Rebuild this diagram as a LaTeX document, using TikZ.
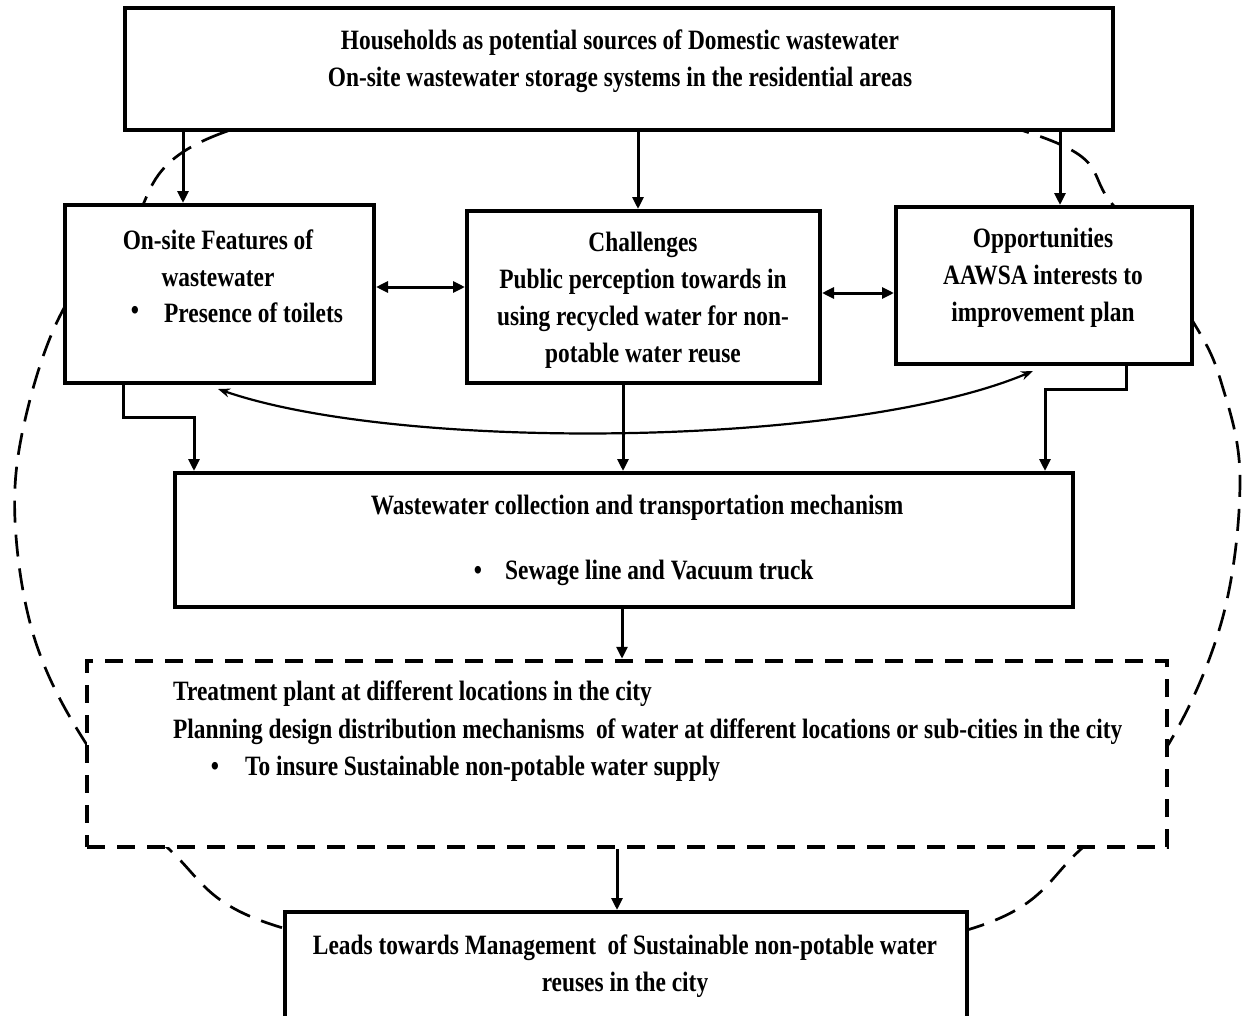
\documentclass[tikz,border=0pt]{standalone}
\usepackage{fontspec}
\setmainfont{Liberation Serif}[FakeStretch=0.835]
\usetikzlibrary{arrows.meta,calc}
\begin{document}
\begin{tikzpicture}[x=1pt,y=-1pt,
  box/.style={draw=black,line width=4pt,fill=white,rectangle,inner sep=0pt},
  dbox/.style={draw=black,line width=4.5pt,fill=white,rectangle,inner sep=0pt,dash pattern=on 18pt off 12pt},
  txt/.style={font=\fontsize{28}{37}\selectfont\bfseries,inner sep=0pt,align=center},
  arr/.style={line width=3pt,-{Triangle[length=12pt,width=11pt]}},
  darr/.style={line width=3pt,{Triangle[length=12pt,width=11pt]}-{Triangle[length=12pt,width=11pt]}},
  carr/.style={line width=2.2pt,{Stealth[length=12pt,width=9pt]}-{Stealth[length=12pt,width=9pt]}},
  ell/.style={line width=2.7pt,dash pattern=on 22pt off 12pt}]
\useasboundingbox (0,0) rectangle (1242,1015);
\clip (0,0) rectangle (1242,1015);
\fill[white] (0,0) rectangle (1242,1015);
% dashed enclosing curve
\draw[ell] plot[smooth cycle,tension=0.6] coordinates {(627,45) (222,133) (128,230) (63,310) (25,420) (15,520) (35,640) (87,745) (170,850) (283,928) (625,985) (967,930) (1080,850) (1165,750) (1222,620) (1240,480) (1222,385) (1192,320) (1113,205) (1030,133)};
% boxes
\node[box,minimum width=988pt,minimum height=122pt] (top) at (619,69) {};
\node[box,minimum width=309pt,minimum height=178pt] (left) at (219.5,294) {};
\node[box,minimum width=353pt,minimum height=172pt] (mid) at (643.5,297) {};
\node[box,minimum width=296pt,minimum height=157pt] (right) at (1044,285.5) {};
\node[box,minimum width=898pt,minimum height=134pt] (coll) at (624,540) {};
\node[dbox,minimum width=1080pt,minimum height=186pt] (treat) at (627,754) {};
\node[box,minimum width=682pt,minimum height=113pt] (lead) at (626,968.5) {};
% texts
\node[txt] (toptxt) at (620,61) {Households as potential sources of Domestic wastewater\\On-site wastewater storage systems in the residential areas};
\node[txt] (lefttxt) at (218,258) {On-site Features of\\wastewater};
\node[txt] (leftb) at (135,313) {•};
\node[txt,anchor=west] (lefttxt2) at (164,313) {Presence of toilets};
\node[txt] (midtxt) at (643,300.5) {Challenges\\Public perception towards in\\using recycled water for non-\\potable water reuse};
\node[txt] (righttxt) at (1043,278) {Opportunities\\AAWSA interests to\\improvement plan};
\node[txt] (colltxt) at (637,508) {Wastewater collection and transportation mechanism};
\node[txt] (collb) at (478,573) {•};
\node[txt,anchor=west] (colltxt2) at (505,573) {Sewage line and Vacuum truck};
\node[txt,anchor=west] (treat1) at (173,694) {Treatment plant at different locations in the city};
\node[txt,anchor=west] (treat2) at (173,732) {Planning design distribution mechanisms\ \ of water at different locations or sub-cities in the city};
\node[txt] (treatb) at (215,769) {•};
\node[txt,anchor=west] (treat3) at (245,769) {To insure Sustainable non-potable water supply};
\node[txt] (leadtxt) at (625,966.5) {Leads towards Management\ \ of Sustainable non-potable water\\reuses in the city};
% connectors
\draw[arr] ([xshift=60pt]top.south west) -- ([xshift=120pt]left.north west);
\draw[arr] ([xshift=515pt]top.south west) -- ([xshift=173pt]mid.north west);
\draw[arr] ([xshift=937pt]top.south west) -- ([xshift=166pt]right.north west);
\draw[darr] ([yshift=7pt]left.east) -- ([yshift=7pt]left.east -| mid.west);
\draw[darr] ([yshift=4pt]mid.east) -- ([yshift=4pt]mid.east -| right.west);
\draw[arr] ([xshift=60pt]left.south west) -- ++(0,32) -| ([xshift=21pt]coll.north west);
\draw[arr] ([xshift=-20.5pt]mid.south) -- ([xshift=-20.5pt]mid.south |- coll.north);
\draw[arr] ([xshift=232pt]right.south west) -- ++(0,23) -| ([xshift=872pt]coll.north west);
\draw[carr] ([xshift=155pt,yshift=-4pt]left.south west) .. controls (400,452) and (850,448) .. ([xshift=139pt,yshift=-5pt]right.south west);
\draw[arr] ([xshift=-2pt]coll.south) -- ([xshift=-2pt]coll.south |- treat.north);
\draw[arr] ([xshift=-10pt]treat.south) -- ([xshift=-10pt]treat.south |- lead.north);
\end{tikzpicture}
\end{document}
